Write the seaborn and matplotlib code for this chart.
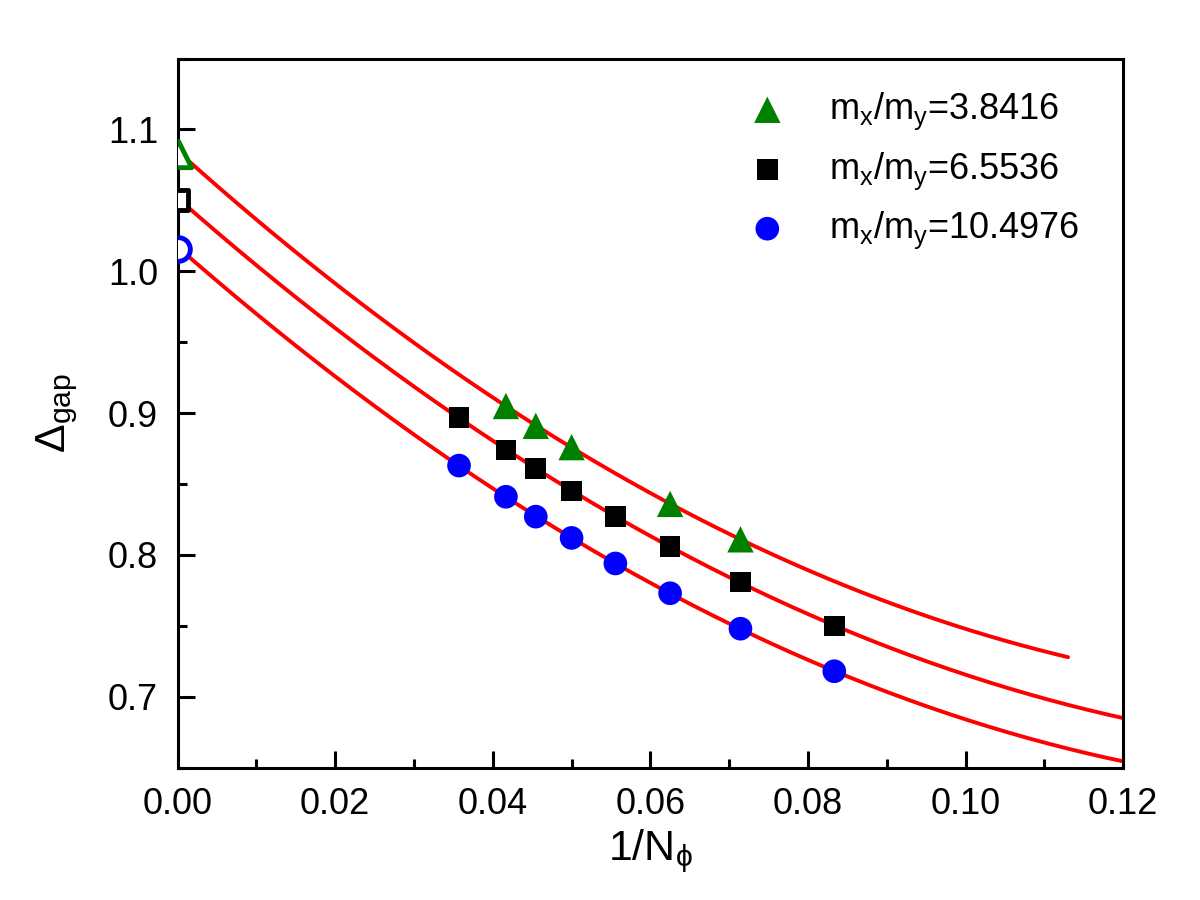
import numpy as np
import pandas as pd
import matplotlib
matplotlib.use("Agg")
import matplotlib.pyplot as plt
import seaborn as sns
from matplotlib.ticker import MultipleLocator

sns.set_style("ticks")
plt.rcParams['font.family'] = ['Liberation Sans', 'DejaVu Sans']
plt.rcParams['mathtext.fontset'] = 'custom'
plt.rcParams['mathtext.rm'] = 'Liberation Sans'
plt.rcParams['mathtext.it'] = 'Liberation Sans'
plt.rcParams['mathtext.default'] = 'regular'
for k in ['text.color', 'axes.labelcolor', 'xtick.color', 'ytick.color', 'axes.edgecolor']:
    plt.rcParams[k] = 'black'

# inverse flux numbers 1/N for N = 28, 24, 22, 20, 18, 16, 14, 12
inv_n = [1/28, 1/24, 1/22, 1/20, 1/18, 1/16, 1/14, 1/12]

labels = ['m$_x$/m$_y$=3.8416', 'm$_x$/m$_y$=6.5536', 'm$_x$/m$_y$=10.4976']

# gap values
gap_38 = [0.905, 0.891, 0.876, 0.836, 0.811]          # N = 24, 22, 20, 16, 14
x_38 = [1/24, 1/22, 1/20, 1/16, 1/14]
gap_65 = [0.897, 0.874, 0.861, 0.845, 0.827, 0.806, 0.781, 0.750]
gap_10 = [0.863, 0.841, 0.827, 0.812, 0.794, 0.773, 0.748, 0.718]

# extrapolated values at 1/N -> 0 (open symbols)
extrap = [1.083, 1.050, 1.016]
fit_end = [0.113, 0.125, 0.125]

colors = ['green', 'black', 'blue']
markers = ['^', 's', 'o']
msize = [360, 220, 290]

xs = [x_38, inv_n, inv_n]
ys = [gap_38, gap_65, gap_10]

fig, ax = plt.subplots(figsize=(12, 9), dpi=100)
fig.subplots_adjust(left=0.148, right=0.936, bottom=0.147, top=0.935)

for i in range(3):
    df = pd.DataFrame({'x': xs[i], 'y': ys[i]})
    # quadratic extrapolation fit (red curves)
    c = np.polyfit(df['x'], df['y'], 2)
    xf = np.linspace(0, fit_end[i], 200)
    fit = pd.DataFrame({'x': xf, 'y': np.polyval(c, xf)})
    sns.lineplot(data=fit, x='x', y='y', color='red', lw=2.8, ax=ax, zorder=2)
    sns.scatterplot(data=df, x='x', y='y', marker=markers[i], color=colors[i],
                    s=msize[i], edgecolor='none', ax=ax, zorder=3, label=labels[i])
    ax.scatter([0], [extrap[i]], marker=markers[i], s=msize[i],
               facecolor='white', edgecolor=colors[i], linewidth=3.5, zorder=4,
               clip_on=True)

ax.set_xlim(0, 0.12)
ax.set_ylim(0.65, 1.15)
ax.xaxis.set_minor_locator(MultipleLocator(0.01))
ax.yaxis.set_minor_locator(MultipleLocator(0.05))
ax.set_xticks([0.0, 0.02, 0.04, 0.06, 0.08, 0.10, 0.12])
ax.set_xticklabels(['0.00', '0.02', '0.04', '0.06', '0.08', '0.10', '0.12'])
ax.set_yticks([0.7, 0.8, 0.9, 1.0, 1.1])
ax.set_yticklabels(['0.7', '0.8', '0.9', '1.0', '1.1'])

ax.tick_params(which='both', direction='in', width=2.2, labelsize=26,
               top=False, right=False)
ax.tick_params(which='major', length=12, pad=14)
ax.tick_params(which='minor', length=6.5)
for sp in ax.spines.values():
    sp.set_linewidth(2.2)
    sp.set_color('black')

ax.set_xlabel('1/N$_{\\phi}$', fontsize=31, labelpad=4)
ax.set_ylabel('$\\Delta_{gap}$', fontsize=31, labelpad=20)

ax.legend(loc='upper right', bbox_to_anchor=(0.98, 0.99), frameon=False,
          fontsize=26, handletextpad=1.2, labelspacing=0.5,
          borderaxespad=0.3, handlelength=1.0)

fig.savefig('out.png', dpi=100)
